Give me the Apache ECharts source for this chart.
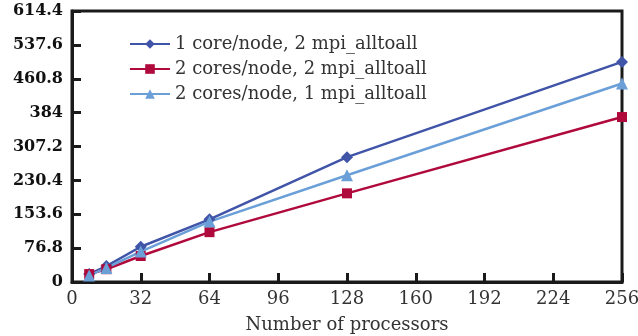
<!DOCTYPE html>
<html>
<head>
<meta charset="utf-8">
<script src="https://cdn.jsdelivr.net/npm/echarts@6/dist/echarts.min.js"></script>
<style>
html, body { margin: 0; padding: 0; background: #fff; }
#chart { width: 638px; height: 336px; }
</style>
</head>
<body>
<div id="chart"></div>
<script>
// processors on x axis
var processors = [8, 16, 32, 64, 128, 256];
var oneCoreTwoMpi = [18, 36, 80, 142, 283, 499];
var twoCoresTwoMpi = [18, 29, 59, 113, 201, 374];
var twoCoresOneMpi = [15, 32, 69, 137, 242, 450];
var seriesNames = ["1 core/node, 2 mpi_alltoall", "2 cores/node, 2 mpi_alltoall", "2 cores/node, 1 mpi_alltoall"];
var xTicks = [0, 32, 64, 96, 128, 160, 192, 224, 256];
var yTicks = [0, 76.8, 153.6, 230.4, 307.2, 384, 460.8, 537.6, 614.4];

function pairs(ys) {
    var out = [];
    for (var i = 0; i < processors.length; i++) {
        out.push([processors[i], ys[i]]);
    }
    return out;
}

var serif = "DejaVu Serif";
var chart = echarts.init(document.getElementById("chart"));

var option = {
    animation: false,
    grid: {
        left: 72, right: 16, top: 11, bottom: 54,
        outerBoundsMode: "none", containLabel: false,
        show: true, borderColor: "#1a1a1a", borderWidth: 3
    },
    legend: {
        orient: "vertical",
        left: 124, top: 30,
        itemWidth: 40, itemHeight: 12, itemGap: 7,
        textStyle: { fontFamily: serif, fontSize: 18, color: "#333", lineHeight: 18 },
        data: seriesNames
    },
    xAxis: {
        type: "value",
        min: xTicks[0], max: xTicks[xTicks.length - 1], interval: 32,
        name: "Number of processors",
        nameLocation: "middle", nameGap: 34,
        nameTextStyle: { fontFamily: serif, fontSize: 18, color: "#333" },
        axisLine: { lineStyle: { color: "#1a1a1a", width: 3 } },
        axisTick: { inside: true, length: 9, lineStyle: { color: "#1a1a1a", width: 3 } },
        axisLabel: { fontFamily: serif, fontSize: 18, color: "#333", margin: 8 },
        splitLine: { show: false }
    },
    yAxis: {
        type: "value",
        min: yTicks[0], max: yTicks[yTicks.length - 1], interval: 76.8,
        axisLine: { show: true, lineStyle: { color: "#1a1a1a", width: 3 } },
        axisTick: { show: true, inside: true, length: 9, lineStyle: { color: "#1a1a1a", width: 3 } },
        axisLabel: {
            fontFamily: serif, fontSize: 16, fontWeight: "bold", color: "#111", margin: 9,
            formatter: function(v) { return String(parseFloat(v.toFixed(1))); }
        },
        splitLine: { show: false }
    },
    series: [
        {
            name: seriesNames[0], type: "line", data: pairs(oneCoreTwoMpi),
            symbol: "diamond", symbolSize: 12,
            lineStyle: { color: "#4054a8", width: 2.5 },
            itemStyle: { color: "#4054a8" }
        },
        {
            name: seriesNames[1], type: "line", data: pairs(twoCoresTwoMpi),
            symbol: "rect", symbolSize: 10,
            lineStyle: { color: "#b00a3c", width: 2.5 },
            itemStyle: { color: "#b00a3c" }
        },
        {
            name: seriesNames[2], type: "line", data: pairs(twoCoresOneMpi),
            symbol: "triangle", symbolSize: 12,
            lineStyle: { color: "#6a9fd8", width: 2.5 },
            itemStyle: { color: "#6a9fd8" }
        }
    ]
};
chart.setOption(option);
</script>
</body>
</html>
